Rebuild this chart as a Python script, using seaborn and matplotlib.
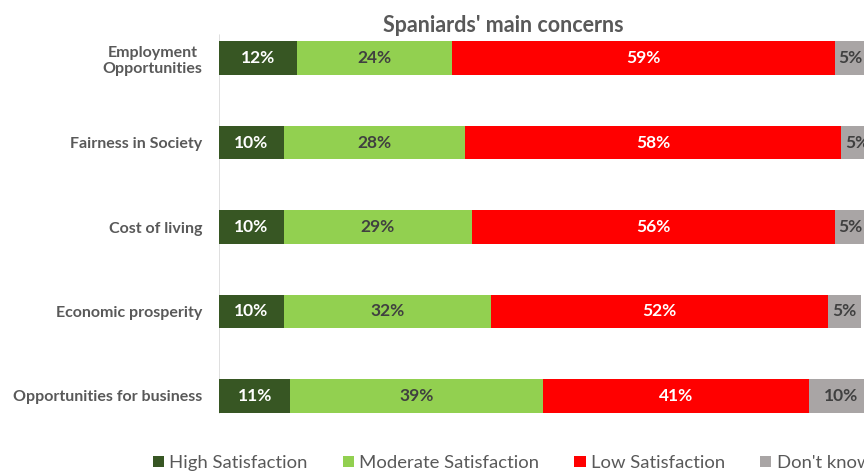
import numpy as np
import pandas as pd
import matplotlib.pyplot as plt
from matplotlib.patches import Patch
import seaborn as sns

categories = ["Employment\nOpportunities", "Fairness in Society", "Cost of living",
              "Economic prosperity", "Opportunities for business"]
series = ["High Satisfaction", "Moderate Satisfaction", "Low Satisfaction", "Don't know"]
high = [12, 10, 10, 10, 11]
moderate = [24, 28, 29, 32, 39]
low = [59, 58, 56, 52, 41]
dont_know = [5, 5, 5, 5, 10]
colors = ["#375623", "#92D050", "#FF0000", "#A9A5A5"]
label_colors = ["white", "#404040", "white", "#404040"]

sns.set_theme(style="white")
plt.rcParams['font.family'] = ['Lato', 'DejaVu Sans']

df = pd.DataFrame({"cat": categories, series[0]: high, series[1]: moderate,
                   series[2]: low, series[3]: dont_know})
cum = df[series].cumsum(axis=1)

fig = plt.figure(figsize=(8.64, 4.72), dpi=100)
ax = fig.add_axes([219 / 864, 1 - 438 / 472, 648 / 864, 422 / 472])

# stacked: draw cumulative totals from the back
for i in range(len(series) - 1, -1, -1):
    sns.barplot(x=cum[series[i]], y=df["cat"], color=colors[i], orient="h",
                width=0.4, ax=ax, saturation=1, linewidth=0)

for i, s in enumerate(series):
    start = cum[s] - df[s]
    for j, v in enumerate(df[s]):
        ax.text(start[j] + v / 2, j, f"{v}%", ha="center", va="center",
                color=label_colors[i], fontsize=12.5, fontweight="bold")

ax.set_xlim(0, 100)
ax.set_ylim(4.5, -0.5)
ax.set_xlabel("")
ax.set_ylabel("")
ax.set_xticks([])
for sp in ax.spines.values():
    sp.set_visible(False)
ax.axvline(0, ymin=0.059, ymax=0.955, color="#D9D9D9", lw=1.2, zorder=0)
ax.tick_params(axis="y", length=0, pad=12)
for t in ax.get_yticklabels():
    t.set_fontsize(11.5)
    t.set_fontweight("bold")
    t.set_color("#595959")
    t.set_multialignment("center")

fig.text(503 / 864, 1 - 25 / 472, "Spaniards' main concerns", ha="center", va="center",
         fontsize=15.5, fontweight="bold", color="#595959")

handles = [Patch(facecolor=c, edgecolor="none") for c in colors]
fig.legend(handles, series, loc="center left", bbox_to_anchor=(136 / 864, 1 - 463 / 472),
           ncol=4, frameon=False, fontsize=13.3, handlelength=0.6, handleheight=0.6,
           handletextpad=0.3, columnspacing=1.9, labelcolor="#595959")

fig.savefig("out.png", dpi=100)
